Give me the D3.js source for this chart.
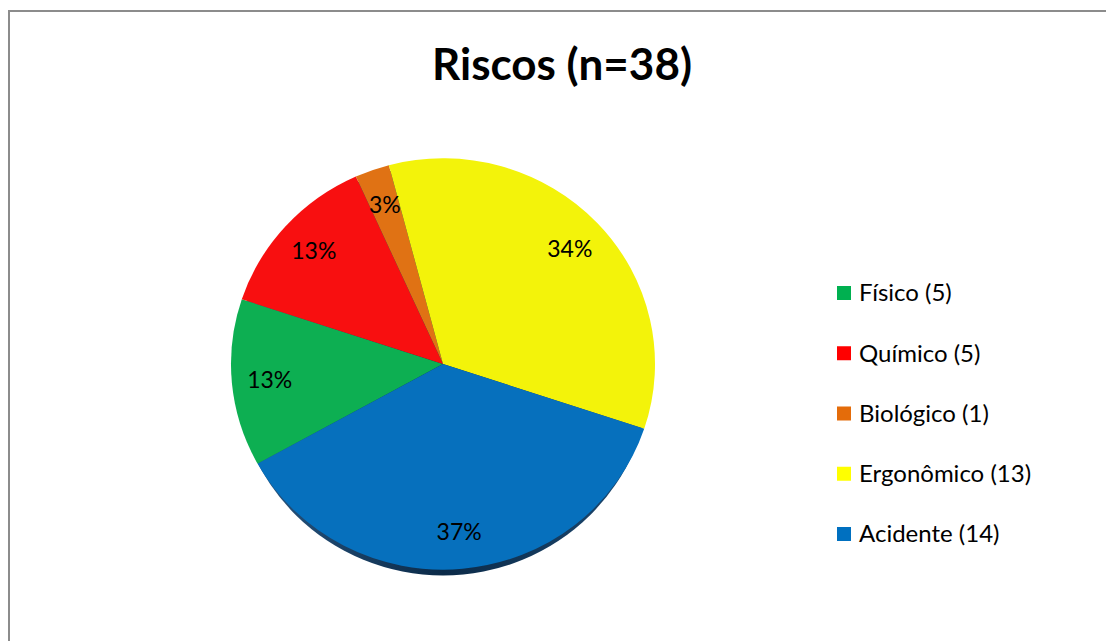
<!DOCTYPE html>
<html><head><meta charset="utf-8">
<script src="https://cdn.jsdelivr.net/npm/d3@7"></script>
<style>body{margin:0;background:#fff}svg{display:block}</style>
</head><body>
<script>
const categories = ["Físico", "Químico", "Biológico", "Ergonômico", "Acidente"];
const values = [5, 5, 1, 13, 14];
const percentLabels = ["13%", "13%", "3%", "34%", "37%"];
const sliceColors = ["#0daf52", "#f80f10", "#e07214", "#f3f30a", "#0670bd"];
const legendColors = ["#00b050", "#ff0000", "#e46c0a", "#ffff00", "#0070c0"];
const title = "Riscos (n=38)";

const W = 1106, H = 641;
const svg = d3.select("body").append("svg").attr("width", W).attr("height", H);
svg.append("rect").attr("x", 9).attr("y", 11).attr("width", W + 10).attr("height", H + 10)
  .attr("fill", "#fff").attr("stroke", "#8c8c8c").attr("stroke-width", 2);

svg.append("text").attr("x", 562).attr("y", 80).attr("text-anchor", "middle")
  .attr("font-family", "Lato, 'Open Sans', sans-serif").attr("font-weight", "bold")
  .attr("font-size", 44).attr("fill", "#000").text(title);

const R = 212, cx = 443, cy = 364, sy = 0.97;
const defs = svg.append("defs");
const shadowGrad = defs.append("linearGradient").attr("id", "sh").attr("x1", 0).attr("x2", 1).attr("y1", 0).attr("y2", 0);
shadowGrad.append("stop").attr("offset", "0%").attr("stop-color", "#2b5a86");
shadowGrad.append("stop").attr("offset", "50%").attr("stop-color", "#0b2a48");
shadowGrad.append("stop").attr("offset", "100%").attr("stop-color", "#1e4a72");

const g = svg.append("g").attr("transform", `translate(${cx},${cy}) scale(1,${sy})`);
const pie = d3.pie().sort(null).value(d => d).startAngle(241 * Math.PI / 180).endAngle((241 + 360) * Math.PI / 180);
const arcs = pie(values);
const arc = d3.arc().innerRadius(0).outerRadius(R);

// bottom 3D edge shadow
g.append("ellipse").attr("cx", 0).attr("cy", 6).attr("rx", R - 4).attr("ry", R).attr("fill", "url(#sh)");

g.selectAll("path.slice").data(arcs).join("path").attr("class", "slice")
  .attr("d", arc).attr("fill", (d, i) => sliceColors[i]);

const labelArc = d3.arc().innerRadius(174).outerRadius(174);
svg.append("g").attr("transform", `translate(${cx},${cy})`)
  .selectAll("text").data(arcs).join("text")
  .attr("transform", d => { const c = labelArc.centroid(d); return `translate(${c[0]},${c[1] * sy})`; })
  .attr("text-anchor", "middle").attr("dy", "0.35em")
  .attr("font-family", "Lato, 'Open Sans', sans-serif").attr("font-size", 23).attr("fill", "#000")
  .text((d, i) => percentLabels[i]);

const legend = svg.append("g");
const ly = d3.scalePoint().domain(categories).range([293, 534]);
const items = legend.selectAll("g").data(categories).join("g")
  .attr("transform", d => `translate(837,${ly(d)})`);
items.append("rect").attr("x", 0).attr("y", -7).attr("width", 14).attr("height", 14)
  .attr("fill", (d, i) => legendColors[i]);
items.append("text").attr("x", 22).attr("dy", "0.35em")
  .attr("font-family", "Lato, 'Open Sans', sans-serif").attr("font-size", 24).attr("fill", "#000")
  .text((d, i) => `${d} (${values[i]})`);
</script>
</body></html>
